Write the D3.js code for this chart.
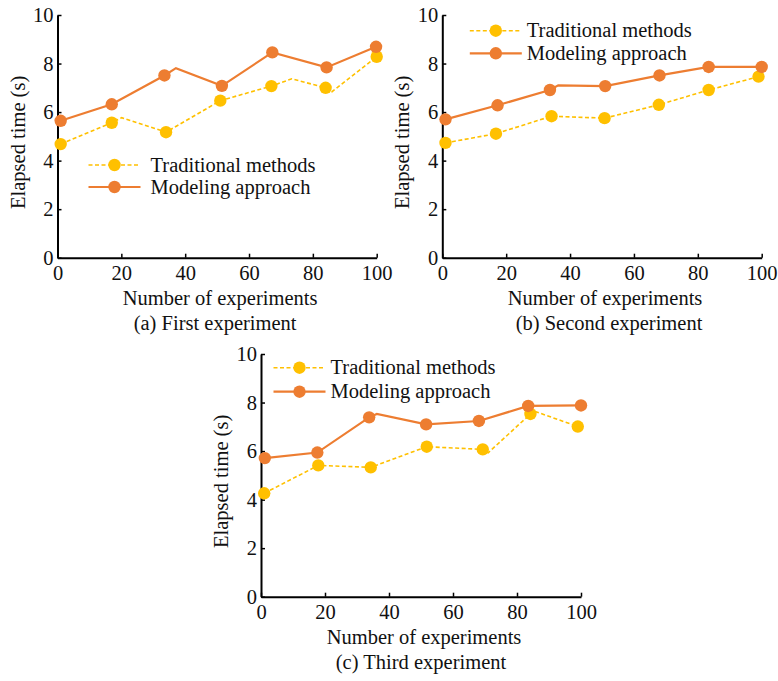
<!DOCTYPE html>
<html>
<head>
<meta charset="utf-8">
<script src="https://cdn.jsdelivr.net/npm/d3@7"></script>
<style>
  html, body { margin: 0; padding: 0; background: #fff; }
  svg { display: block; }
  text { font-family: "Liberation Serif", "Times New Roman", serif; fill: #111; }
</style>
</head>
<body>
<svg id="chart" width="778" height="681"></svg>
<script>
// ─── colour palette ──────────────────────────────────────────────
const tradColor = "#ffc000";
const modColor  = "#ed7d31";

// ─── data ─────────────────────────────────────────────────────────
const seriesNames = ["Traditional methods", "Modeling approach"];
const xTicks = [0, 20, 40, 60, 80, 100];
const yTicks = [0, 2, 4, 6, 8, 10];

// (a) first experiment
const tradXA = [1, 17, 34, 51, 67, 84, 100];
const tradA  = [4.68, 5.56, 5.17, 6.47, 7.07, 7.0, 8.28];
const modXA  = [1, 17, 33.5, 51.5, 67.3, 84.3, 99.8];
const modA   = [5.64, 6.32, 7.51, 7.08, 8.46, 7.84, 8.69];
// extra bends the plotted lines make between markers
const tradBendA = [[20.1, 5.77], [73.4, 7.37], [86, 6.84]];
const modBendA  = [[37.1, 7.81]];

// (b) second experiment
const tradXB = [1, 16.8, 34.2, 50.8, 67.8, 83.4, 99];
const tradB  = [4.73, 5.11, 5.83, 5.75, 6.3, 6.91, 7.46];
const modXB  = [1, 17.3, 33.7, 51, 68, 83.4, 100];
const modB   = [5.7, 6.28, 6.91, 7.07, 7.51, 7.86, 7.86];
const tradBendB = [];
const modBendB  = [[36.3, 7.1]];

// (c) third experiment
const tradXC = [1, 17.9, 34.3, 51.8, 69.3, 84.2, 99];
const tradC  = [4.26, 5.41, 5.33, 6.18, 6.07, 7.53, 7.01];
const modXC  = [1.2, 17.6, 33.8, 51.6, 68.1, 83.5, 100];
const modC   = [5.71, 5.94, 7.39, 7.1, 7.24, 7.86, 7.88];
const tradBendC = [[71, 5.93], [85.1, 7.66]];
const modBendC  = [[36.2, 7.53]];

// ─── shared helpers ───────────────────────────────────────────────
const svg = d3.select("#chart");
const fontSize = "20.5px";

const zip = (xs, ys) => xs.map((x, i) => [x, ys[i]]);

const drawPanel = (p) => {
    const x = d3.scaleLinear().domain([0, 100]).range([p.left, p.right]);
    const y = d3.scaleLinear().domain([0, 10]).range([p.bottom, p.top]);
    const g = svg.append("g");

    // axes: inward ticks, no frame on top/right
    const xAxis = g.append("g")
        .attr("transform", `translate(0, ${p.bottom})`)
        .call(d3.axisBottom(x).tickValues(xTicks).tickSizeInner(-4).tickSizeOuter(0).tickPadding(8));
    const yAxis = g.append("g")
        .attr("transform", `translate(${p.left}, 0)`)
        .call(d3.axisLeft(y).tickValues(yTicks).tickSizeInner(-4).tickSizeOuter(0).tickPadding(4));

    [xAxis, yAxis].forEach(a => {
        a.select(".domain").attr("stroke", "#000").attr("stroke-width", 2);
        a.selectAll(".tick line").attr("stroke", "#000").attr("stroke-width", 1.5);
        a.selectAll(".tick text")
            .style("font-family", "Liberation Serif, serif")
            .style("font-size", fontSize)
            .attr("fill", "#111");
    });
    xAxis.selectAll(".tick text").attr("dy", "0.7em");

    // axis titles
    g.append("text")
        .attr("x", (p.left + p.right) / 2 + 3)
        .attr("y", p.bottom + 47)
        .attr("text-anchor", "middle")
        .style("font-size", fontSize)
        .text("Number of experiments");

    g.append("text")
        .attr("x", (p.left + p.right) / 2 + p.capShift)
        .attr("y", p.bottom + 72)
        .attr("text-anchor", "middle")
        .style("font-size", fontSize)
        .text(p.caption);

    g.append("text")
        .attr("transform", `translate(${p.left - 33}, ${(p.top + p.bottom) / 2 + 6}) rotate(-90)`)
        .attr("text-anchor", "middle")
        .style("font-size", fontSize)
        .text("Elapsed time (s)");

    const line = d3.line().x(d => x(d[0])).y(d => y(d[1]));

    const series = [
        { pts: zip(p.tradX, p.trad), bends: p.tradBend, color: tradColor, dash: "4,2.5", width: 1.6 },
        { pts: zip(p.modX, p.mod), bends: p.modBend, color: modColor, dash: null, width: 2.2 }
    ];

    series.forEach(s => {
        const path = s.pts.concat(s.bends).sort((a, b) => a[0] - b[0]);
        g.append("path")
            .attr("d", line(path))
            .attr("fill", "none")
            .attr("stroke", s.color)
            .attr("stroke-width", s.width)
            .attr("stroke-dasharray", s.dash);

        g.selectAll(null)
            .data(s.pts)
            .join("circle")
            .attr("cx", d => x(d[0]))
            .attr("cy", d => y(d[1]))
            .attr("r", 6.2)
            .attr("fill", s.color);
    });

    // ── legend ────────────────────────────────────────────────────
    series.forEach((s, i) => {
        const ly = p.legY + i * p.legGap;
        const lx0 = p.left + p.legX;
        g.append("line")
            .attr("x1", lx0).attr("x2", lx0 + 52)
            .attr("y1", ly).attr("y2", ly)
            .attr("stroke", s.color)
            .attr("stroke-width", s.width)
            .attr("stroke-dasharray", s.dash);
        g.append("circle")
            .attr("cx", lx0 + 26).attr("cy", ly)
            .attr("r", 6.2)
            .attr("fill", s.color);
        g.append("text")
            .attr("x", lx0 + p.legText)
            .attr("y", ly + 6.5)
            .style("font-size", fontSize)
            .text(seriesNames[i]);
    });
};

// ─── panels ───────────────────────────────────────────────────────
drawPanel({
    left: 57.5, right: 376.7, top: 15, bottom: 257.7,
    tradX: tradXA, trad: tradA, modX: modXA, mod: modA,
    tradBend: tradBendA, modBend: modBendA,
    legX: 31, legY: 165, legGap: 22, legText: 62,
    caption: "(a) First experiment", capShift: -2
});

drawPanel({
    left: 442.3, right: 761.7, top: 15, bottom: 257.7,
    tradX: tradXB, trad: tradB, modX: modXB, mod: modB,
    tradBend: tradBendB, modBend: modBendB,
    legX: 27.5, legY: 30.7, legGap: 22.6, legText: 57,
    caption: "(b) Second experiment", capShift: 7
});

drawPanel({
    left: 261, right: 581, top: 354, bottom: 596.7,
    tradX: tradXC, trad: tradC, modX: modXC, mod: modC,
    tradBend: tradBendC, modBend: modBendC,
    legX: 12.5, legY: 367.7, legGap: 24, legText: 57,
    caption: "(c) Third experiment", capShift: 0
});
</script>
</body>
</html>
